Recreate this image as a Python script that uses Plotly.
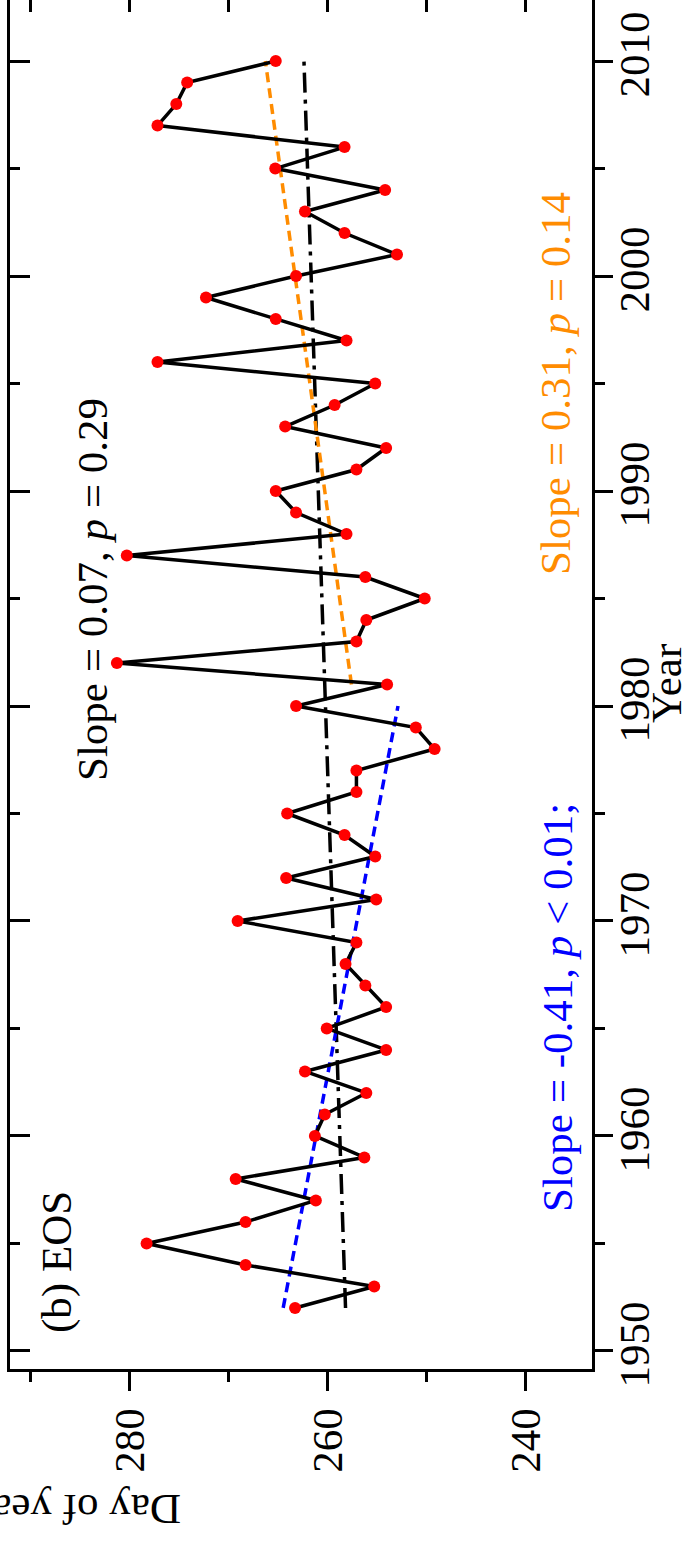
import plotly.graph_objects as go

# ---------------- data ----------------
years = list(range(1952, 2011))
eos_doy = [263.3, 255.3, 268.3, 278.3, 268.3, 261.2, 269.3, 256.3, 261.3, 260.3,   # 1952-1961
           256.1, 262.3, 254.1, 260.1, 254.1, 256.2, 258.2, 257.1, 269.1, 255.1,   # 1962-1971
           264.2, 255.2, 258.3, 264.1, 257.1, 257.1, 249.2, 251.1, 263.2, 254.0,   # 1972-1981
           281.3, 257.1, 256.1, 250.2, 256.2, 280.3, 258.1, 263.2, 265.25, 257.1,  # 1982-1991
           254.1, 264.3, 259.3, 255.2, 277.2, 258.1, 265.25, 272.3, 263.2, 253.0,  # 1992-2001
           258.3, 262.3, 254.2, 265.3, 258.3, 277.2, 275.3, 274.2, 265.25]         # 2002-2010

trend_all_years = [1952, 2010]
trend_all_doy = [258.2, 262.4]
trend_early_years = [1952, 1980]
trend_early_doy = [264.5, 252.9]
trend_late_years = [1981, 2010]
trend_late_doy = [257.6, 266.3]

day_ticks = [280, 260, 240]
day_minor = [290, 270, 250]
year_ticks = [1950, 1960, 1970, 1980, 1990, 2000, 2010]
year_minor = [1955, 1965, 1975, 1985, 1995, 2005]

# ---------------- figure ----------------
FONT = "Liberation Serif, Times New Roman, serif"
FS = 43
W, H = 693, 1546
ML, MR, MT, MB = 10, 101, 0, 177
XR = [292.1, 233.3]
YR = [1949.16, 2012.84]

fig = go.Figure()

fig.add_trace(go.Scatter(x=trend_all_doy, y=trend_all_years, mode="lines",
                         line=dict(color="black", width=3.5, dash="20px,7px,4px,7px"),
                         showlegend=False))
fig.add_trace(go.Scatter(x=trend_early_doy, y=trend_early_years, mode="lines",
                         line=dict(color="#0000FF", width=3.5, dash="10px,6px"),
                         showlegend=False))
fig.add_trace(go.Scatter(x=trend_late_doy, y=trend_late_years, mode="lines",
                         line=dict(color="#FF8C00", width=3.5, dash="10px,6px"),
                         showlegend=False))
fig.add_trace(go.Scatter(x=eos_doy, y=years, mode="lines+markers",
                         line=dict(color="black", width=3.5),
                         marker=dict(color="#FF0000", size=12),
                         showlegend=False))
# dummy trace for the mirrored inner-tick axes
fig.add_trace(go.Scatter(x=[None], y=[None], xaxis="x2", yaxis="y2",
                         showlegend=False, hoverinfo="skip"))

fig.update_layout(
    width=W, height=H,
    margin=dict(l=ML, r=MR, t=MT, b=MB, pad=0),
    paper_bgcolor="white", plot_bgcolor="white",
    font=dict(family=FONT, color="black", size=FS),
    xaxis=dict(range=XR, side="bottom", showgrid=False, zeroline=False,
               showline=True, linecolor="black", linewidth=3,
               tickmode="array", tickvals=day_ticks, ticktext=[str(v) for v in day_ticks],
               ticks="outside", ticklen=19, tickwidth=3, tickcolor="black",
               tickangle=-90, tickfont=dict(size=FS, family=FONT),
               minor=dict(tickmode="array", tickvals=day_minor, ticks="outside",
                          ticklen=10, tickwidth=3, tickcolor="black")),
    yaxis=dict(range=YR, side="right", showgrid=False, zeroline=False,
               showline=True, linecolor="black", linewidth=3,
               tickmode="array", tickvals=year_ticks, ticktext=[str(v) for v in year_ticks],
               ticks="outside", ticklen=18, tickwidth=3, tickcolor="black",
               tickangle=-90, tickfont=dict(size=FS, family=FONT),
               ticklabelstandoff=-16,
               minor=dict(tickmode="array", tickvals=year_minor,
                          ticks="outside", ticklen=10, tickwidth=3, tickcolor="black")),
    xaxis2=dict(range=XR, overlaying="x", side="top", anchor="y", showgrid=False,
                zeroline=False, showline=False, showticklabels=False,
                tickmode="array", tickvals=day_minor + day_ticks,
                ticks="inside", ticklen=12, tickwidth=3, tickcolor="black"),
    yaxis2=dict(range=YR, overlaying="y", side="left", anchor="x", showgrid=False,
                zeroline=False, showline=True, linecolor="black", linewidth=3,
                showticklabels=False,
                tickmode="array", tickvals=year_ticks,
                ticks="inside", ticklen=20, tickwidth=3, tickcolor="black",
                minor=dict(tickmode="array", tickvals=year_minor,
                           ticks="inside", ticklen=10, tickwidth=3, tickcolor="black")),
)

def px_to_paper(px, py):
    return (px - ML) / (W - ML - MR), 1 - (py - MT) / (H - MT - MB)

annots = [
    ("(b) EOS", 57, 1262, "black", -90),
    ("Slope = 0.07, <i>p</i> = 0.29", 92, 590, "black", -90),
    ("Slope = -0.41, <i>p</i> &lt; 0.01;", 557, 1008, "#0000FF", -90),
    ("Slope = 0.31, <i>p</i> = 0.14", 555, 384, "#FF8C00", -90),
    ("Year", 666, 684, "black", -90),
    ("Day of year", 80, 1510, "black", 180),
]
for txt, px, py, col, ang in annots:
    xp, yp = px_to_paper(px, py)
    fig.add_annotation(text=txt, x=xp, y=yp, xref="paper", yref="paper",
                       xanchor="center", yanchor="middle", showarrow=False,
                       textangle=ang, font=dict(size=FS, color=col, family=FONT))

fig.write_html("out.html")
